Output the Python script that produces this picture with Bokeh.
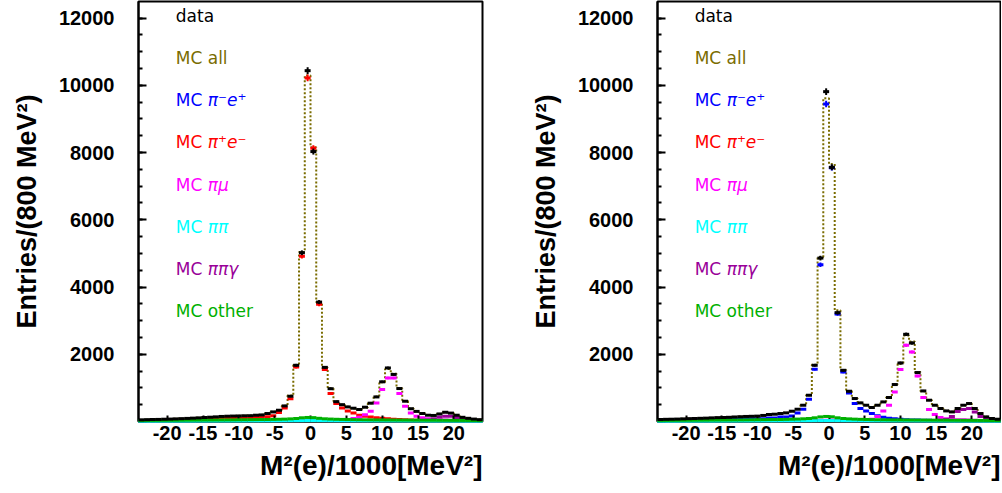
import numpy as np
from bokeh.plotting import figure
from bokeh.models import FixedTicker, Label, Range1d, Title
from bokeh.layouts import row
from bokeh.embed import file_html
from bokeh.resources import INLINE

# ---------------- binning (800 MeV^2 bins, in units of 1000 MeV^2) ----------------
bin_lo, bin_hi, bin_w = -24.0, 24.0, 0.8

# ---------------- left panel (pi+ e- selection) ----------------
left_data = [50, 55, 60, 62, 68, 72, 78, 85, 92, 100,
             108, 119, 128, 138, 150, 157, 162, 165, 170, 172,
             187, 195, 237, 285, 335, 463, 751, 1672, 5019, 10434,
             8028, 3552, 1610, 975, 590, 500, 434, 395, 356, 425,
             545, 731, 1180, 1592, 1400, 980, 603, 380, 300, 237,
             187, 180, 225, 275, 250, 187, 125, 95, 72, 55]
left_mc_all = [48, 54, 58, 63, 66, 73, 80, 84, 93, 99,
               110, 117, 130, 136, 148, 155, 160, 168, 172, 178,
               185, 200, 230, 290, 345, 470, 770, 1680, 5040, 10290,
               8160, 3550, 1600, 990, 600, 495, 440, 390, 360, 420,
               540, 740, 1170, 1560, 1420, 990, 610, 385, 295, 235,
               190, 178, 220, 270, 255, 190, 128, 92, 70, 52]
left_pim_ep = [3, 3, 3, 3, 3, 3, 3, 4, 4, 4,
               4, 4, 4, 5, 5, 5, 5, 5, 6, 6,
               6, 6, 7, 7, 8, 8, 9, 10, 12, 14,
               13, 11, 10, 9, 8, 8, 7, 7, 6, 6,
               6, 6, 6, 5, 5, 5, 5, 5, 4, 4,
               4, 4, 4, 4, 3, 3, 3, 3, 3, 3]
left_pip_em = [30, 32, 35, 37, 40, 42, 45, 50, 55, 60,
               64, 68, 72, 78, 84, 90, 95, 100, 105, 112,
               120, 130, 140, 170, 267, 404, 680, 1620, 4918, 10217,
               8126, 3484, 1544, 831, 534, 404, 315, 256, 187, 157,
               137, 110, 95, 80, 70, 60, 52, 45, 40, 35,
               30, 27, 25, 22, 20, 18, 16, 14, 12, 10]
left_pimu = [3, 3, 3, 4, 4, 4, 4, 5, 5, 5,
             5, 6, 6, 6, 7, 7, 8, 8, 9, 10,
             11, 12, 14, 16, 18, 20, 24, 28, 34, 40,
             40, 35, 30, 30, 35, 40, 60, 90, 130, 200,
             306, 553, 950, 1295, 1295, 831, 454, 256, 157, 110,
             80, 60, 50, 45, 40, 35, 30, 25, 20, 15]
left_pipi = [10, 10, 11, 11, 12, 12, 13, 13, 14, 14,
             15, 15, 16, 16, 17, 17, 18, 18, 19, 20,
             20, 21, 22, 22, 23, 24, 25, 26, 27, 28,
             28, 27, 26, 25, 24, 24, 23, 22, 22, 21,
             21, 20, 20, 19, 19, 18, 18, 17, 17, 16,
             16, 15, 15, 14, 14, 13, 13, 12, 12, 11]
left_pipigamma = [2, 2, 2, 2, 2, 3, 3, 3, 3, 3,
                  3, 3, 4, 4, 4, 4, 4, 5, 5, 5,
                  5, 5, 6, 6, 6, 7, 7, 8, 8, 9,
                  9, 9, 9, 10, 10, 10, 11, 11, 12, 12,
                  13, 14, 15, 16, 16, 17, 18, 18, 20, 25,
                  40, 80, 137, 157, 157, 119, 75, 45, 30, 20]
left_other = [30, 32, 33, 34, 35, 36, 37, 38, 40, 41,
              42, 43, 44, 45, 46, 47, 48, 50, 52, 54,
              56, 58, 60, 63, 66, 70, 78, 90, 110, 120,
              115, 95, 80, 72, 66, 62, 58, 55, 52, 50,
              48, 47, 46, 45, 44, 43, 42, 41, 40, 39,
              38, 37, 36, 35, 34, 33, 32, 31, 30, 28]

# ---------------- right panel (pi- e+ selection) ----------------
right_data = [60, 65, 68, 72, 78, 85, 89, 95, 100, 108,
              115, 119, 125, 135, 142, 150, 155, 160, 180, 208,
              217, 237, 256, 306, 365, 484, 781, 1672, 4860, 9810,
              7560, 3237, 1523, 900, 683, 553, 484, 416, 484, 582,
              713, 1099, 1740, 2593, 2334, 1455, 909, 633, 484, 386,
              315, 285, 386, 484, 534, 386, 237, 137, 89, 68]
right_mc_all = [58, 64, 70, 71, 80, 83, 90, 96, 102, 106,
                117, 121, 127, 133, 145, 148, 158, 165, 178, 205,
                220, 235, 260, 300, 370, 490, 790, 1690, 4890, 9610,
                7660, 3305, 1530, 910, 690, 560, 480, 420, 480, 590,
                720, 1110, 1720, 2560, 2380, 1470, 900, 640, 480, 390,
                320, 290, 380, 480, 530, 390, 240, 140, 92, 66]
right_pim_ep = [40, 42, 45, 47, 50, 52, 55, 58, 60, 62,
                65, 68, 70, 72, 75, 78, 80, 80, 80, 107,
                107, 137, 137, 166, 256, 365, 662, 1553, 4660, 9445,
                7550, 3200, 1473, 850, 534, 386, 315, 237, 170, 130,
                100, 80, 65, 55, 48, 42, 38, 34, 30, 27,
                25, 22, 20, 18, 16, 14, 12, 10, 9, 8]
right_pip_em = [3, 3, 3, 3, 3, 3, 3, 4, 4, 4,
                4, 4, 4, 5, 5, 5, 5, 5, 6, 6,
                6, 6, 7, 7, 8, 8, 9, 10, 12, 14,
                13, 11, 10, 9, 8, 8, 7, 7, 6, 6,
                6, 6, 6, 5, 5, 5, 5, 5, 4, 4,
                4, 4, 4, 4, 3, 3, 3, 3, 3, 3]
right_pimu = [3, 3, 3, 4, 4, 4, 4, 5, 5, 5,
              5, 6, 6, 6, 7, 7, 8, 8, 9, 10,
              11, 12, 14, 16, 18, 20, 24, 28, 34, 40,
              45, 40, 38, 40, 45, 50, 55, 70, 150, 315,
              484, 879, 1544, 2266, 2067, 1350, 713, 356, 208, 119,
              85, 65, 55, 50, 45, 40, 32, 25, 20, 15]
right_pipi = [10, 10, 11, 11, 12, 12, 13, 13, 14, 14,
              15, 15, 16, 16, 17, 17, 18, 18, 19, 20,
              20, 21, 22, 22, 23, 24, 25, 26, 27, 28,
              28, 27, 26, 25, 24, 24, 23, 22, 22, 21,
              21, 20, 20, 19, 19, 18, 18, 17, 17, 16,
              16, 15, 15, 14, 14, 13, 13, 12, 12, 11]
right_pipigamma = [2, 2, 2, 2, 2, 3, 3, 3, 3, 3,
                   3, 3, 4, 4, 4, 4, 4, 5, 5, 5,
                   5, 5, 6, 6, 6, 7, 7, 8, 8, 9,
                   9, 9, 9, 10, 10, 10, 11, 11, 12, 12,
                   13, 14, 15, 16, 16, 17, 18, 18, 20, 30,
                   60, 150, 300, 356, 386, 285, 150, 70, 40, 25]
right_other = [32, 33, 34, 35, 36, 37, 38, 39, 40, 42,
               43, 44, 45, 46, 47, 48, 50, 52, 54, 56,
               58, 60, 64, 68, 72, 80, 90, 110, 137, 150,
               140, 110, 90, 78, 70, 64, 60, 56, 53, 50,
               48, 47, 46, 45, 44, 43, 42, 41, 40, 39,
               38, 37, 36, 35, 34, 33, 32, 31, 30, 28]

# ---------------- labels / ticks ----------------
x_ticks = [-20, -15, -10, -5, 0, 5, 10, 15, 20]
y_ticks = [0, 2000, 4000, 6000, 8000, 10000, 12000]
y_minor = list(range(500, 12500, 500))
y_title = "Entries/(800 MeV²)"
x_title = "M²(e)/1000[MeV²]"
legend_entries = [("data", "", "#000000"),
                  ("MC all", "", "#7a6c00"),
                  ("MC", "π⁻e⁺", "#0000ff"),
                  ("MC", "π⁺e⁻", "#ff0000"),
                  ("MC", "πμ", "#ff00ff"),
                  ("MC", "ππ", "#00ffff"),
                  ("MC", "ππγ", "#990099"),
                  ("MC other", "", "#00b000")]

OLIVE = "#7a6c00"
Y_MAX = 12491
edges = np.round(np.arange(bin_lo, bin_hi + bin_w / 2, bin_w), 3)
centers = edges[:-1] + bin_w / 2


def draw_points(p, vals, color, level="glyph"):
    v = np.asarray(vals, dtype=float)
    err = np.sqrt(v)
    p.segment(x0=centers, y0=v - err, x1=centers, y1=v + err, line_color=color,
              line_width=2, level=level)
    p.rect(x=centers, y=v, width=6, height=3, width_units="screen", height_units="screen",
           fill_color=color, line_color=None, level=level)


def make_panel(series, width, border_left, border_right):
    p = figure(width=width, height=490, output_backend="svg", toolbar_location=None,
               x_range=Range1d(bin_lo, bin_hi), y_range=Range1d(0, Y_MAX),
               min_border_left=border_left, min_border_right=border_right,
               min_border_top=1, min_border_bottom=69)
    p.grid.visible = False
    p.outline_line_color = "black"
    p.outline_line_width = 2
    p.background_fill_color = "white"
    p.border_fill_color = "white"

    # MC all histogram outline (dotted)
    mc = list(series["mc_all"])
    p.step(x=edges, y=mc + [mc[-1]], mode="after", line_color=OLIVE,
           line_dash="2 2", line_width=2)

    draw_points(p, series["pim_ep"], "#0000ff")
    draw_points(p, series["pip_em"], "#ff0000")
    draw_points(p, series["pimu"], "#ff00ff")
    draw_points(p, series["pipigamma"], "#990099")
    draw_points(p, series["pipi"], "#00ffff", "overlay")
    draw_points(p, series["other"], "#00b000", "overlay")
    draw_points(p, series["data"], "#000000", "overlay")

    # axes
    for ax in (p.xaxis, p.yaxis):
        ax.axis_line_width = 2
        ax.axis_line_color = "black"
        ax.major_tick_line_width = 2
        ax.minor_tick_line_width = 2
        ax.major_tick_line_color = "black"
        ax.minor_tick_line_color = "black"
        ax.major_label_text_font = "Liberation Sans"
        ax.major_label_text_font_style = "bold"
        ax.major_label_text_font_size = "20px"
        ax.major_label_text_color = "black"
        ax.major_tick_out = 0
        ax.minor_tick_out = 0

    p.xaxis.ticker = FixedTicker(ticks=x_ticks, minor_ticks=[])
    p.xaxis.major_label_overrides = {t: str(t) for t in x_ticks}
    p.xaxis.major_tick_in = 6
    p.xaxis.minor_tick_in = 0
    p.xaxis.major_label_standoff = 4

    p.yaxis.ticker = FixedTicker(ticks=y_ticks, minor_ticks=y_minor)
    p.yaxis.major_label_overrides = {t: ("" if t == 0 else str(t)) for t in y_ticks}
    p.yaxis.major_tick_in = 8
    p.yaxis.minor_tick_in = 4
    p.yaxis.major_label_standoff = 24
    p.yaxis.axis_label = y_title
    p.yaxis.axis_label_text_font = "Liberation Sans"
    p.yaxis.axis_label_text_font_style = "bold"
    p.yaxis.axis_label_text_font_size = "27px"
    p.yaxis.axis_label_text_color = "black"
    p.yaxis.axis_label_standoff = 14

    # x-axis title (right aligned under the frame)
    xt = Title(text=x_title, align="right", text_font="Liberation Sans",
               text_font_style="bold", text_font_size="28px", text_color="black",
               standoff=10, offset=0)
    p.add_layout(xt, "below")

    # legend texts
    leg_y = [12045, 10796, 9547, 8298, 7048, 5799, 4550, 3301]
    for (txt, greek, col), yy in zip(legend_entries, leg_y):
        p.add_layout(Label(x=-18.8, y=yy, text=txt, text_baseline="middle",
                           text_font="DejaVu Sans", text_font_size="17px", text_color=col))
        if greek:
            p.add_layout(Label(x=-18.8, y=yy, x_offset=32, text=greek, text_baseline="middle",
                               text_font="DejaVu Sans", text_font_style="italic",
                               text_font_size="17px", text_color=col))
    return p


left = dict(data=left_data, mc_all=left_mc_all, pim_ep=left_pim_ep, pip_em=left_pip_em,
            pimu=left_pimu, pipi=left_pipi, pipigamma=left_pipigamma, other=left_other)
right = dict(data=right_data, mc_all=right_mc_all, pim_ep=right_pim_ep, pip_em=right_pip_em,
             pimu=right_pimu, pipi=right_pipi, pipigamma=right_pipigamma, other=right_other)

p1 = make_panel(left, 522, 138, 40)
p2 = make_panel(right, 479, 135, 1)

layout = row(p1, p2)
open("out.html", "w").write(file_html(layout, INLINE))
